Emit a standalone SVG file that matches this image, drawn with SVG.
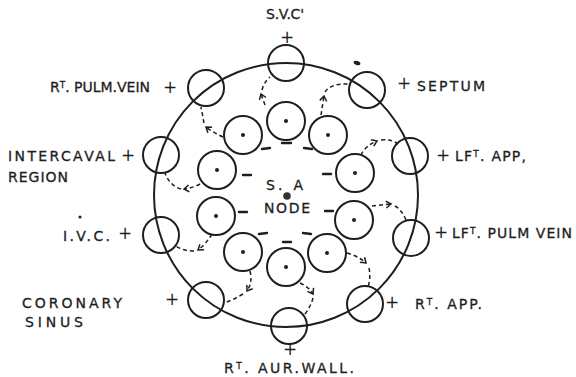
<svg xmlns="http://www.w3.org/2000/svg" width="576" height="377" viewBox="0 0 576 377">
<style>
.c{fill:none;stroke:#1e1e1e;stroke-width:2}
.d{fill:#1e1e1e}
.m{stroke:#1e1e1e;stroke-width:2.4;stroke-linecap:round}
.t{font-family:"DejaVu Sans",sans-serif;font-size:14px;fill:#1e1e1e;stroke:#1e1e1e;stroke-width:0.3}
.p{font-family:"DejaVu Sans",sans-serif;font-size:17px;fill:#1e1e1e;text-anchor:middle}
.k{fill:none;stroke:#1e1e1e;stroke-width:1.5;stroke-dasharray:4 3}
</style>
<defs>
<marker id="ah" markerUnits="userSpaceOnUse" viewBox="-7 -5 9 10" refX="0" refY="0" markerWidth="9" markerHeight="10" orient="auto">
<path d="M-5,-3.5 L0,0 L-5,3.5" fill="none" stroke="#1e1e1e" stroke-width="1.5"/>
</marker>
</defs>
<rect width="576" height="377" fill="#fff"/>
<circle id="atrium" class="c" cx="286" cy="195" r="132"/>

<g id="sa-node">
<text class="t" x="266" y="190" textLength="37">S. A</text>
<circle cx="287" cy="196" r="3.8" fill="#333"/>
<text class="t" x="264" y="213" textLength="46">NODE</text>
</g>

<g id="inner">
<g id="i1"><circle class="c" cx="286" cy="121" r="19"/><circle class="d" cx="286" cy="121" r="2"/></g>
<g id="i2"><circle class="c" cx="243" cy="135" r="19"/><circle class="d" cx="243" cy="135" r="2"/></g>
<g id="i3"><circle class="c" cx="328" cy="135" r="19"/><circle class="d" cx="328" cy="135" r="2"/></g>
<g id="i4"><circle class="c" cx="217" cy="170" r="19"/><circle class="d" cx="217" cy="170" r="2"/></g>
<g id="i5"><circle class="c" cx="355" cy="173" r="19"/><circle class="d" cx="355" cy="173" r="2"/></g>
<g id="i6"><circle class="c" cx="216" cy="216" r="19"/><circle class="d" cx="216" cy="216" r="2"/></g>
<g id="i7"><circle class="c" cx="354" cy="220" r="19"/><circle class="d" cx="354" cy="220" r="2"/></g>
<g id="i8"><circle class="c" cx="243" cy="252" r="19"/><circle class="d" cx="243" cy="252" r="2"/></g>
<g id="i9"><circle class="c" cx="327" cy="253" r="19"/><circle class="d" cx="327" cy="253" r="2"/></g>
<g id="i10"><circle class="c" cx="286" cy="267" r="19"/><circle class="d" cx="286" cy="267" r="2"/></g>
</g>

<g id="minus">
<line class="m" x1="282" y1="143" x2="291" y2="143"/>
<line class="m" x1="262" y1="149" x2="270" y2="148"/>
<line class="m" x1="304" y1="148" x2="312" y2="149"/>
<line class="m" x1="243" y1="175" x2="251" y2="175"/>
<line class="m" x1="323" y1="174" x2="331" y2="174"/>
<line class="m" x1="239" y1="212" x2="247" y2="212"/>
<line class="m" x1="325" y1="211" x2="333" y2="211"/>
<line class="m" x1="259" y1="234" x2="267" y2="233"/>
<line class="m" x1="303" y1="233" x2="311" y2="234"/>
<line class="m" x1="283" y1="242" x2="291" y2="242"/>
</g>

<g id="svc"><circle class="c" cx="286" cy="63" r="18"/><text class="t" x="266" y="19" textLength="38">S.V.C'</text><text class="p" x="287" y="43">+</text></g>
<g id="rt-pulm-vein"><circle class="c" cx="206" cy="88" r="18"/><text class="t" x="50" y="92" textLength="100">R<tspan font-size="9" dy="-4">T</tspan><tspan dy="4">. PULM.VEIN</tspan></text><text class="p" x="170" y="93">+</text></g>
<g id="septum"><circle class="c" cx="367" cy="90" r="18"/><text class="p" x="404" y="89">+</text><text class="t" x="417" y="91" textLength="68">SEPTUM</text><ellipse cx="357" cy="63" rx="3.5" ry="2" fill="#222" transform="rotate(20 357 63)"/></g>
<g id="intercaval"><circle class="c" cx="161" cy="155" r="18"/><text class="t" x="8" y="161" textLength="107">INTERCAVAL</text><text class="p" x="128" y="161">+</text><text class="t" x="8" y="182" textLength="60">REGION</text></g>
<g id="lft-app"><circle class="c" cx="410" cy="156" r="18"/><text class="p" x="443" y="161">+</text><text class="t" x="455" y="161" textLength="71">LF<tspan font-size="9" dy="-4">T</tspan><tspan dy="4">. APP,</tspan></text></g>
<g id="ivc"><circle class="c" cx="161" cy="235" r="18"/><text class="t" x="63" y="241" textLength="47">I.V.C.</text><text class="p" x="125" y="239">+</text><circle cx="80" cy="217" r="1.6" fill="#222"/></g>
<g id="lft-pulm-vein"><circle class="c" cx="411" cy="238" r="18"/><text class="p" x="441" y="238">+</text><text class="t" x="452" y="238" textLength="120">LF<tspan font-size="9" dy="-4">T</tspan><tspan dy="4">. PULM VEIN</tspan></text></g>
<g id="coronary-sinus"><circle class="c" cx="206" cy="300" r="18"/><text class="p" x="172" y="305">+</text><text class="t" x="22" y="308" textLength="100">CORONARY</text><text class="t" x="25" y="327" textLength="58">SINUS</text></g>
<g id="rt-app"><circle class="c" cx="365" cy="304" r="18"/><text class="p" x="392" y="308">+</text><text class="t" x="415" y="309" textLength="67">R<tspan font-size="9" dy="-4">T</tspan><tspan dy="4">. APP.</tspan></text></g>
<g id="rt-aur-wall"><circle class="c" cx="289" cy="326" r="18"/><text class="p" x="290" y="355" font-size="15">+</text><text class="t" x="224" y="373" textLength="130">R<tspan font-size="9" dy="-4">T</tspan><tspan dy="4">. AUR.WALL.</tspan></text></g>

<g id="connectors">
<path class="k" d="M265,105 L261,94" marker-end="url(#ah)"/>
<path class="k" d="M262,90 Q264,82 270,77"/>
<path class="k" d="M321,115 L324,96" marker-end="url(#ah)"/>
<path class="k" d="M325,92 Q331,83 350,84"/>
<path class="k" d="M223,137 Q214,133 206,127" marker-end="url(#ah)"/>
<path class="k" d="M204,123 L201,107"/>
<path class="k" d="M361,155 Q365,146 377,141" marker-end="url(#ah)"/>
<path class="k" d="M381,140 Q392,139 398,144"/>
<path class="k" d="M200,184 Q193,188 184,189" marker-end="url(#ah)"/>
<path class="k" d="M181,189 Q170,186 165,173"/>
<path class="k" d="M372,206 L391,204" marker-end="url(#ah)"/>
<path class="k" d="M395,206 Q402,210 406,220"/>
<path class="k" d="M212,234 Q206,244 198,250" marker-end="url(#ah)"/>
<path class="k" d="M194,251 Q183,251 176,246"/>
<path class="k" d="M250,271 Q253,282 247,291" marker-end="url(#ah)"/>
<path class="k" d="M243,294 Q233,300 224,303"/>
<path class="k" d="M300,283 Q309,287 313,294" marker-end="url(#ah)"/>
<path class="k" d="M313,298 Q311,306 305,314"/>
<path class="k" d="M347,253 Q358,256 366,263" marker-end="url(#ah)"/>
<path class="k" d="M369,268 Q371,278 368,287"/>
</g>
</svg>
